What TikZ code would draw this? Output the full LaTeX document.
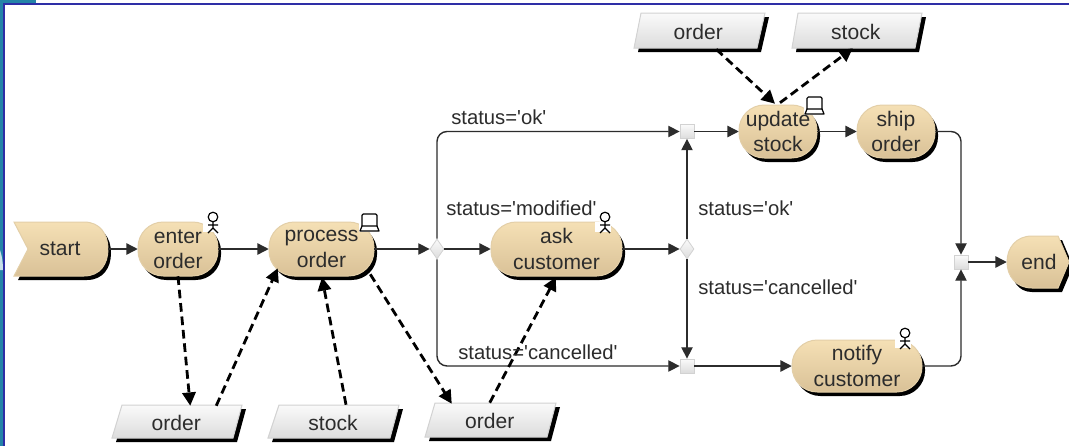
\documentclass[tikz,border=0pt]{standalone}
\usepackage{fontspec}
\setmainfont{Liberation Sans}
\usetikzlibrary{arrows.meta,calc,shapes.geometric}
\definecolor{tantop}{HTML}{F5E0B5}
\definecolor{tanbot}{HTML}{D9C197}
\definecolor{tanedge}{HTML}{E3CFA8}
\definecolor{greytop}{HTML}{FAFAFA}
\definecolor{greybot}{HTML}{DCDCDC}
\definecolor{greyedge}{HTML}{D2D2D2}
\definecolor{ink}{HTML}{2C2C2C}
\definecolor{framel}{HTML}{2E2EA6}
\definecolor{teal1}{HTML}{2484A8}
\newcommand{\qq}{\textquotesingle}
\tikzset{
  px/.style={line width=#1*0.75pt},
  labeltext/.style={inner sep=0pt,text=ink,align=center,font=\fontsize{15.8}{19}\selectfont},
  condtext/.style={inner sep=0pt,text=ink,anchor=base west,font=\fontsize{15.2}{18.2}\selectfont},
  bodyshape/.style={top color=tantop,bottom color=tanbot,draw=tanedge,line width=0.75pt},
  datashape/.style={top color=greytop,bottom color=greybot,draw=greyedge,line width=0.75pt},
  gateshape/.style={top color=greytop,bottom color=greybot,draw=greyedge,line width=0.6pt,inner sep=0pt},
  flow/.style={draw=ink,px=1.4,rounded corners=7.5pt,-{Triangle[length=8.5pt,width=8.5pt]}},
  dataflow/.style={draw=black,px=2.8,dash pattern=on 6.5pt off 3.6pt,-{Triangle[length=10pt,width=10pt]}},
  iconline/.style={draw=black,px=1.2,line join=round},
}
\newcommand{\activityshape}[4]{%
  \fill[black,rounded corners=19pt] ({#1+3},{#3+4}) rectangle ({#2+3},{#4+4});
  \path[bodyshape,rounded corners=19pt] (#1,#3) rectangle (#2,#4);}
\newcommand{\boxnode}[6]{%
  \node[labeltext,minimum width={(#3-#2)*0.75pt},minimum height={(#5-#4)*0.75pt}] (#1) at ({(#2+#3)/2},{(#4+#5)/2}) {#6};}
\newcommand{\dataobj}[8]{%
  \fill[black] ({#4+4},{#7+4}) -- ({#2+4},{#6+4}) -- ({#3+4},{#6+4}) -- ({#5+4},{#7+4}) -- cycle;
  \path[datashape] (#4,#7) -- (#2,#6) -- (#3,#6) -- (#5,#7) -- cycle;
  \node[labeltext,minimum width={(#3-#2)*0.75pt},minimum height={(#7-#6)*0.75pt}] (#1) at ({(#2+#3+#4+#5)/4-1},{(#6+#7)/2+1}) {#8};}
\newcommand{\personicon}[2]{%
  \fill[white] ({#1-10},{#2+5}) rectangle ({#1+6},{#2+15});
  \draw[iconline] (#1,#2) circle[radius=3.6pt];
  \draw[iconline] (#1,{#2+5}) -- (#1,{#2+11}) ({#1-5},{#2+8}) -- ({#1+5},{#2+8}) ({#1-5},{#2+16}) -- (#1,{#2+11}) -- ({#1+5},{#2+16});}
\newcommand{\computericon}[2]{%
  \fill[white] ({#1-3},{#2+1}) rectangle ({#1+18},{#2+18});
  \draw[iconline,rounded corners=1pt] (#1,{#2+12}) -- (#1,#2) -- ({#1+15},#2) -- ({#1+15},{#2+12});
  \draw[iconline] ({#1-2},{#2+17}) -- (#1,{#2+12}) -- ({#1+15},{#2+12}) -- ({#1+17},{#2+17}) -- cycle;}
\begin{document}
\begin{tikzpicture}[x=0.75pt,y=-0.75pt]
\useasboundingbox (0,0) rectangle (1069,446);
\fill[white] (0,0) rectangle (1069,446);
\fill[teal1] (0,0) rectangle (36,3);
\fill[teal1] (0,0) rectangle (3,446);
\fill[framel] (3,3) rectangle (1069,5);
\fill[framel] (3,3) rectangle (5,446);
\fill[white!75!teal1] (0,250) .. controls (2,256) and (3,262) .. (3,270) -- (0,270) -- cycle;

% start
\fill[black] (18,226) -- (87,226) .. controls (103,226) and (111,238) .. (111,253) .. controls (111,268) and (103,280) .. (87,280) -- (18,280) -- (32,253) -- cycle;
\path[bodyshape] (14,222) -- (84,222) .. controls (100,222) and (108,234) .. (108,249) .. controls (108,264) and (100,276) .. (84,276) -- (14,276) -- (28,249) -- cycle;
\boxnode{start}{12}{108}{222}{276}{start}
% end
\fill[black] (1032,240) -- (1062,240) -- (1073,266) -- (1062,292) -- (1032,292) .. controls (1018,292) and (1011,280) .. (1011,266) .. controls (1011,252) and (1018,240) .. (1032,240) -- cycle;
\path[bodyshape] (1032,236) -- (1058,236) -- (1069,262) -- (1058,288) -- (1032,288) .. controls (1016,288) and (1007,276) .. (1007,262) .. controls (1007,248) and (1016,236) .. (1032,236) -- cycle;
\boxnode{end}{1007}{1071}{236}{288}{end}

% activities
\activityshape{138}{218}{222}{276}\personicon{213}{217}
\boxnode{enter}{138}{218}{222}{276}{enter\\order}
\activityshape{269}{374}{222}{276}\computericon{362}{214}
\boxnode{process}{269}{374}{222}{276}{process\\order}
\activityshape{491}{622}{222}{276}\personicon{605}{217}
\boxnode{ask}{491}{622}{222}{276}{ask\\customer}
\activityshape{739}{817}{105}{158}\computericon{807}{97}
\boxnode{update}{739}{817}{105}{158}{update\\stock}
\activityshape{857}{935}{105}{158}
\boxnode{ship}{857}{935}{105}{158}{ship\\order}
\activityshape{792}{922}{340}{392}\personicon{905}{333}
\boxnode{notify}{792}{922}{340}{392}{notify\\customer}

% data objects
\dataobj{orderA}{122}{242}{112}{233}{405}{438}{order}
\dataobj{stockA}{279}{399}{268}{390}{405}{438}{stock}
\dataobj{orderB}{435}{556}{425}{547}{403}{437}{order}
\dataobj{orderT}{641}{765}{634}{757}{13}{48}{order}
\dataobj{stockT}{798}{922}{792}{915}{13}{48}{stock}

% gateways
\node[gateshape,diamond,minimum width=10.5pt,minimum height=15pt] (dia1) at (437,249) {};
\node[gateshape,diamond,minimum width=10.5pt,minimum height=15pt] (dia2) at (687,249) {};
\node[gateshape,rectangle,minimum size=10.5pt] (sq1) at (687,131.5) {};
\node[gateshape,rectangle,minimum size=10.5pt] (sq2) at (687,366) {};
\node[gateshape,rectangle,minimum size=10.5pt] (sq3) at (961,262) {};

% control flow
\draw[flow] (start.east) -- (enter.west);
\draw[flow] (enter.east) -- (process.west);
\draw[flow] (process.east) -- (dia1.west);
\draw[flow] (dia1.east) -- (ask.west);
\draw[flow] (ask.east) -- (dia2.west);
\draw[flow] (dia1.north) |- (sq1.west);
\draw[flow] (dia1.south) |- (sq2.west);
\draw[flow] (dia2.north) -- (sq1.south);
\draw[flow] (dia2.south) -- (sq2.north);
\draw[flow] (sq1.east) -- (update.west);
\draw[flow] (update.east) -- (ship.west);
\draw[flow] (sq2.east) -- (notify.west);
\draw[flow] (ship.east) -| (sq3.north);
\draw[flow] (notify.east) -| (sq3.south);
\draw[flow] (sq3.east) -- (end.west);

% data flow
\draw[dataflow] (enter.south) -- ($(orderA.north)+(14,0)$);
\draw[dataflow] ($(orderA.north)+(40,0)$) -- ($(process.south west)+(9,-8)$);
\draw[dataflow] ($(stockA.north)+(13,-1)$) -- ($(process.south)+(0.5,1)$);
\draw[dataflow] ($(process.south east)+(-4,-2)$) -- ($(orderB.north)+(-38,0)$);
\draw[dataflow] ($(orderB.north)+(0,-1)$) -- ($(ask.south)+(-0.5,1)$);
\draw[dataflow] ($(orderT.south)+(18,0)$) -- ($(update.north)+(-3,-1)$);
\draw[dataflow] ($(update.north)+(2,-2)$) -- ($(stockT.south)+(-3,-1)$);

% conditions
\node[condtext] (c1) at (451,124) {status=\qq ok\qq};
\node[condtext] (c2) at (446,215) {status=\qq modified\qq};
\node[condtext] (c3) at (698,215) {status=\qq ok\qq};
\node[condtext] (c4) at (698,294) {status=\qq cancelled\qq};
\node[condtext] (c5) at (458,359) {status=\qq cancelled\qq};
\end{tikzpicture}
\end{document}
